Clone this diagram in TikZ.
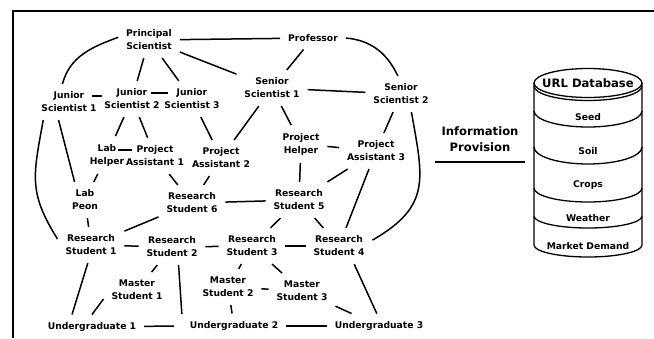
\documentclass[tikz,border=0pt]{standalone}
\usepackage{fontspec}
\setmainfont{DejaVu Sans}
\usepackage{tikz}
\usetikzlibrary{positioning,calc}

\begin{document}
\begin{tikzpicture}[
x=1pt,y=1pt,
member/.style={
  align=center,
  font=\fontsize{9.2}{13}\selectfont\bfseries,
  inner sep=3pt,
  outer sep=5pt},
tie/.style={
  line width=1.5pt},
dbline/.style={
  line width=1.3pt},
dbfield/.style={
  font=\fontsize{9.2}{13}\selectfont\bfseries,
  inner sep=1pt},
bigtitle/.style={
  align=center,
  font=\fontsize{11.6}{16}\selectfont\bfseries}
]
\useasboundingbox (0,0) rectangle (654,-338);
\draw[line width=2pt] (654,-11) -- (13,-11) -- (13,-338);

\node[member] (ps) at (149,-40) {Principal\\Scientist};
\node[member] (prof) at (313,-38) {Professor};
\node[member] (js1) at (69,-102) {Junior\\Scientist 1};
\node[member] (js2) at (132,-99) {Junior\\Scientist 2};
\node[member] (js3) at (192,-99) {Junior\\Scientist 3};
\node[member] (ss1) at (272,-88) {Senior\\Scientist 1};
\node[member] (ss2) at (401,-94) {Senior\\Scientist 2};
\node[member] (lh) at (107,-155) {Lab\\Helper};
\node[member] (pa1) at (155,-156) {Project\\Assistant 1};
\node[member] (pa2) at (221,-158) {Project\\Assistant 2};
\node[member] (ph) at (301,-144) {Project\\Helper};
\node[member] (pa3) at (376,-151) {Project\\Assistant 3};
\node[member] (lp) at (85,-200) {Lab\\Peon};
\node[member] (rs6) at (192,-203) {Research\\Student 6};
\node[member] (rs5) at (299,-200) {Research\\Student 5};
\node[member] (rs1) at (91,-245) {Research\\Student 1};
\node[member] (rs2) at (172,-247) {Research\\Student 2};
\node[member] (rs3) at (252,-246) {Research\\Student 3};
\node[member] (rs4) at (339,-246) {Research\\Student 4};
\node[member] (ms1) at (137,-290) {Master\\Student 1};
\node[member] (ms2) at (228,-287) {Master\\Student 2};
\node[member] (ms3) at (302,-291) {Master\\Student 3};
\node[member] (ug1) at (92,-327) {Undergraduate 1};
\node[member] (ug2) at (234,-326) {Undergraduate 2};
\node[member] (ug3) at (379,-326) {Undergraduate 3};

\foreach \from/\to in {ps/prof,ps/js2,ps/js3,ps/ss1,prof/ss1,ss1/ss2,
  js2/lh,js2/pa1,js3/pa2,ss1/pa2,ss1/ph,ss2/pa3,ph/pa3,lh/lp,
  pa1/rs6,pa2/rs6,lp/rs1,rs6/rs1,rs6/rs5,ph/rs5,pa3/rs5,pa3/rs4,
  rs5/rs3,rs5/rs4,rs1/rs2,rs2/rs3,rs3/rs4,rs2/ms1,rs3/ms2,rs3/ms3,
  ms2/ms3,ms2/ug2,ms3/ug3,ug2/ug3}
  \draw[tie] (\from) -- (\to);
\draw[tie] (ug1) -- ($(ug2.west)+(-8,0)$);
\draw[tie] ($(js1.center)+(23,6)$) -- ($(js2.center)+(-30,3)$);
\draw[tie] ($(js2.center)+(19,6)$) -- ($(js3.center)+(-24,6)$);
\draw[tie] ($(lh.center)+(11,5)$) -- ($(pa1.center)+(-23,6)$);
\draw[tie] (js1.240) -- (lp.120);
\draw[tie] (rs4.310) -- (ug3.100);
\draw[tie] (rs1.260) -- (ug1.148);
\draw[tie] (ms1.195) -- (ug1.north);
\draw[tie] (rs2.290) -- (ug2.167);
\draw[tie] (ps.175) to[out=200,in=75] (js1.110);
\draw[tie] (prof.east) to[out=-5,in=115] (ss2.100);
\draw[tie] (js1.215) to[out=260,in=122,looseness=1.2] (rs1.170);
\draw[tie] (ss2.300) to[out=280,in=30,looseness=1.3] (rs4.10);

\coordinate (infol) at (435,-162);
\coordinate (infor) at (525,-162);
\draw[tie] (infol) -- (infor) node[midway,above=6pt,bigtitle] (info) {Information\\Provision};

\coordinate (dbtop) at (588,-83);
\draw[dbline] (dbtop) ellipse [x radius=54, y radius=14.5];
\draw[dbline] (534,-86) arc[start angle=180,end angle=360,x radius=54,y radius=14.5];
\draw[dbline] (534,-83) -- (534,-245)
  arc[start angle=180,end angle=360,x radius=54,y radius=12] -- (642,-83);
\foreach \s/\r in {111/16,147/17,188/14,216/12}
  \draw[dbline] (534,-\s) arc[start angle=180,end angle=360,x radius=54,y radius=\r];
\node[dbfield,font=\fontsize{11.6}{16}\selectfont\bfseries] (url) at (dbtop) {URL Database};
\node[dbfield] (seed) at (588,-117) {Seed};
\node[dbfield] (soil) at (588,-151) {Soil};
\node[dbfield] (crops) at (588,-185) {Crops};
\node[dbfield] (weather) at (588,-218) {Weather};
\node[dbfield] (market) at (588,-246) {Market Demand};
\end{tikzpicture}
\end{document}
